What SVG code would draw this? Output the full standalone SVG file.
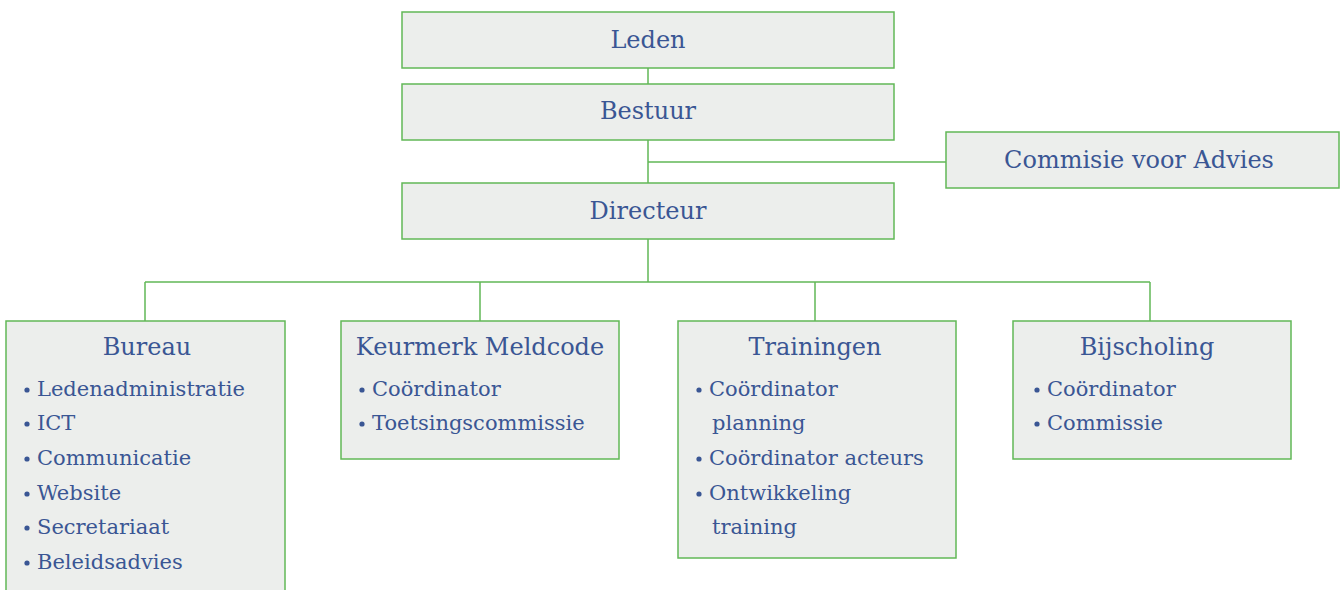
<svg xmlns="http://www.w3.org/2000/svg" width="1344" height="590" viewBox="0 0 1344 590">
<style>
.box{fill:#ECEEEC;stroke:#62B857;stroke-width:1.5}
.ln{stroke:#62B857;stroke-width:1.5;fill:none}
.t{font-family:"DejaVu Serif","Liberation Serif",serif;fill:#3A5694;font-size:24px;text-anchor:middle}
.b{font-family:"DejaVu Serif","Liberation Serif",serif;fill:#3A5694;font-size:21px}
.d{fill:#3A5694}
</style>
<defs><circle id="dot" r="2.6" class="d"/></defs>
<rect width="1344" height="590" fill="#FFFFFF"/>
<g id="connectors">
<path class="ln" d="M648 68V84M648 140V183M648 162H946M648 239V282M145 282H1150M145 282V321M480 282V321M815 282V321M1150 282V321"/>
</g>
<g id="leden"><rect class="box" x="402" y="12" width="492" height="56"/><text class="t" x="648" y="48">Leden</text></g>
<g id="bestuur"><rect class="box" x="402" y="84" width="492" height="56"/><text class="t" x="648" y="119">Bestuur</text></g>
<g id="commisie"><rect class="box" x="946" y="132" width="393" height="56"/><text class="t" x="1139" y="168">Commisie voor Advies</text></g>
<g id="directeur"><rect class="box" x="402" y="183" width="492" height="56"/><text class="t" x="648" y="219">Directeur</text></g>
<g id="bureau"><rect class="box" x="6" y="321" width="279" height="280"/><text class="t" x="147" y="355">Bureau</text>
<use href="#dot" x="27" y="390"/><use href="#dot" x="27" y="424"/><use href="#dot" x="27" y="459"/><use href="#dot" x="27" y="494"/><use href="#dot" x="27" y="528"/><use href="#dot" x="27" y="563"/>
<text class="b"><tspan x="37" y="396">Ledenadministratie</tspan><tspan x="37" y="430">ICT</tspan><tspan x="37" y="465">Communicatie</tspan><tspan x="37" y="500">Website</tspan><tspan x="37" y="534">Secretariaat</tspan><tspan x="37" y="569">Beleidsadvies</tspan></text></g>
<g id="keurmerk"><rect class="box" x="341" y="321" width="278" height="138"/><text class="t" x="480" y="355">Keurmerk Meldcode</text>
<use href="#dot" x="362" y="390"/><use href="#dot" x="362" y="424"/>
<text class="b"><tspan x="372" y="396">Coördinator</tspan><tspan x="372" y="430">Toetsingscommissie</tspan></text></g>
<g id="trainingen"><rect class="box" x="678" y="321" width="278" height="237"/><text class="t" x="815" y="355">Trainingen</text>
<use href="#dot" x="699" y="390"/><use href="#dot" x="699" y="459"/><use href="#dot" x="699" y="494"/>
<text class="b"><tspan x="709" y="396">Coördinator</tspan><tspan x="712" y="430">planning</tspan><tspan x="709" y="465">Coördinator acteurs</tspan><tspan x="709" y="500">Ontwikkeling</tspan><tspan x="712" y="534">training</tspan></text></g>
<g id="bijscholing"><rect class="box" x="1013" y="321" width="278" height="138"/><text class="t" x="1147" y="355">Bijscholing</text>
<use href="#dot" x="1037" y="390"/><use href="#dot" x="1037" y="424"/>
<text class="b"><tspan x="1047" y="396">Coördinator</tspan><tspan x="1047" y="430">Commissie</tspan></text></g>
</svg>
